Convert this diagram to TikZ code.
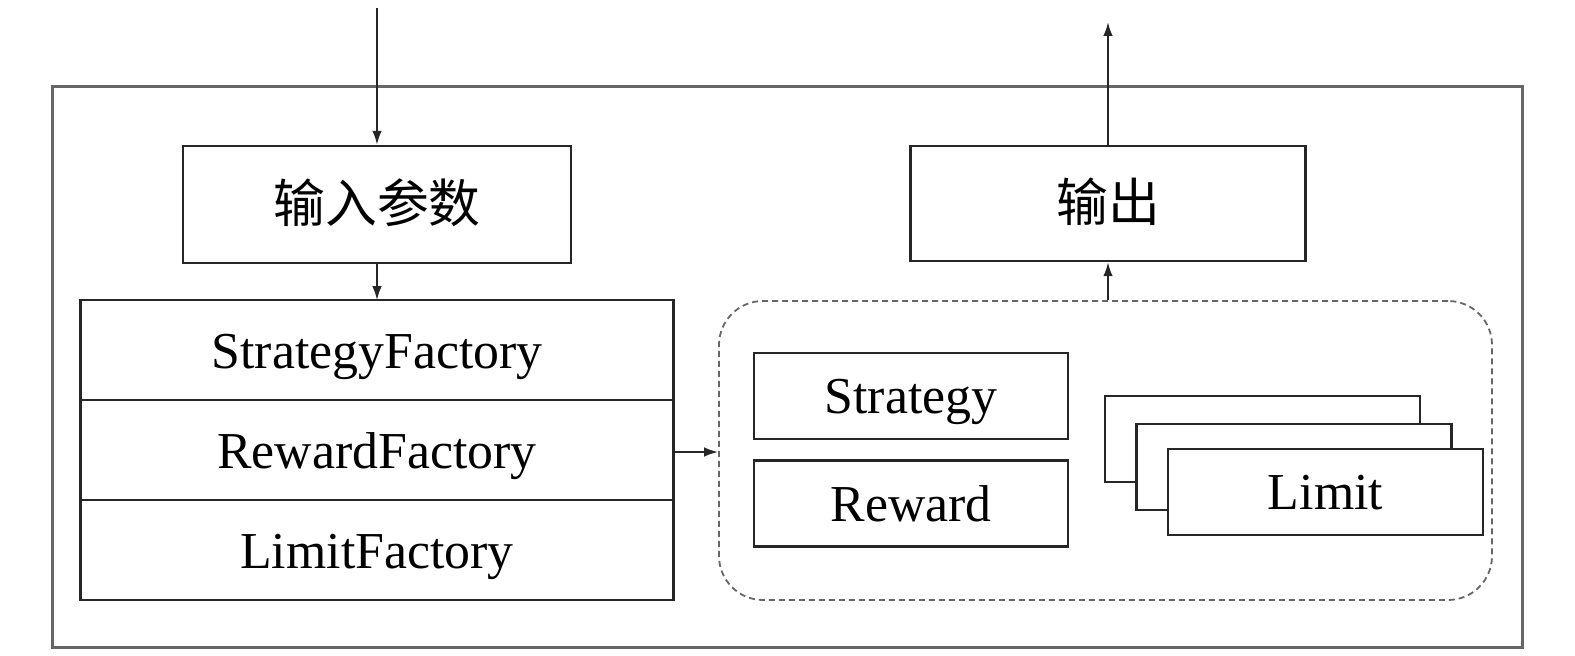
\documentclass[tikz,border=0pt]{standalone}
\usepackage{fontspec}
\setmainfont{Liberation Serif}
\newfontfamily\cjk{Noto Sans CJK SC}
\usetikzlibrary{arrows.meta, positioning, calc}

\begin{document}
\begin{tikzpicture}[
        x=0.5pt, y=-0.5pt,
        font=\fontsize{25.9}{30}\selectfont,
        >={Latex[length=7pt,width=4.8pt]},
        box/.style={draw=black!85, line width=1.2pt, inner sep=0pt, text height=22pt, text depth=4pt},
        cell/.style={box, outer sep=0pt, minimum width=296.5pt, minimum height=50pt},
        part/.style={box, minimum width=157pt, minimum height=43pt},
        limitbox/.style={box, fill=white, minimum width=157.5pt, minimum height=43pt},
        frame/.style={draw=black!60, line width=1.5pt},
        group/.style={draw=black!60, dashed, dash pattern=on 3pt off 2pt, line width=0.9pt, rounded corners=22pt},
        link/.style={->, draw=black!85, line width=1pt}
    ]
        \useasboundingbox (0,0) rectangle (1575,656);

        % --- Рамка ---
        \draw[frame] (52,87) rectangle (1522,648);

        % --- Улаз и фабрике ---
        \node[box, minimum width=194pt, minimum height=58.5pt] (inp) at (377,204.5) {\cjk 输入参数};
        \node[cell, below=18pt of inp] (sfac) {StrategyFactory};
        \node[cell, below=0pt of sfac] (rfac) {RewardFactory};
        \node[cell, below=0pt of rfac] (lfac) {LimitFactory};

        \coordinate (inTop) at (377,8);
        \draw[link] (inTop) -- (inp.north);
        \draw[link] (inp.south) -- (sfac.north);

        % --- Производи ---
        \node[group, minimum width=386.5pt, minimum height=149.5pt] (grp) at (1105.5,450.5) {};
        \node[part] (strat) at (911,396) {Strategy};
        \node[part, below=9.5pt of strat] (rew) {Reward};

        \node[limitbox] (lim3) at (1262.5,439) {};
        \node[limitbox] (lim2) at (1294,467) {};
        \node[limitbox] (lim1) at (1325.5,492) {Limit};

        \draw[link] (rfac.east |- 0,452) -- (grp.west |- 0,452);

        % --- Излаз ---
        \node[box, minimum width=197.5pt, minimum height=57.5pt] (out) at (1108,203.5) {\cjk 输出};
        \coordinate (outTop) at (1108,22);
        \draw[link] (out.south |- grp.north) -- (out.south);
        \draw[link] (out.north) -- (outTop);
    \end{tikzpicture}
\end{document}
